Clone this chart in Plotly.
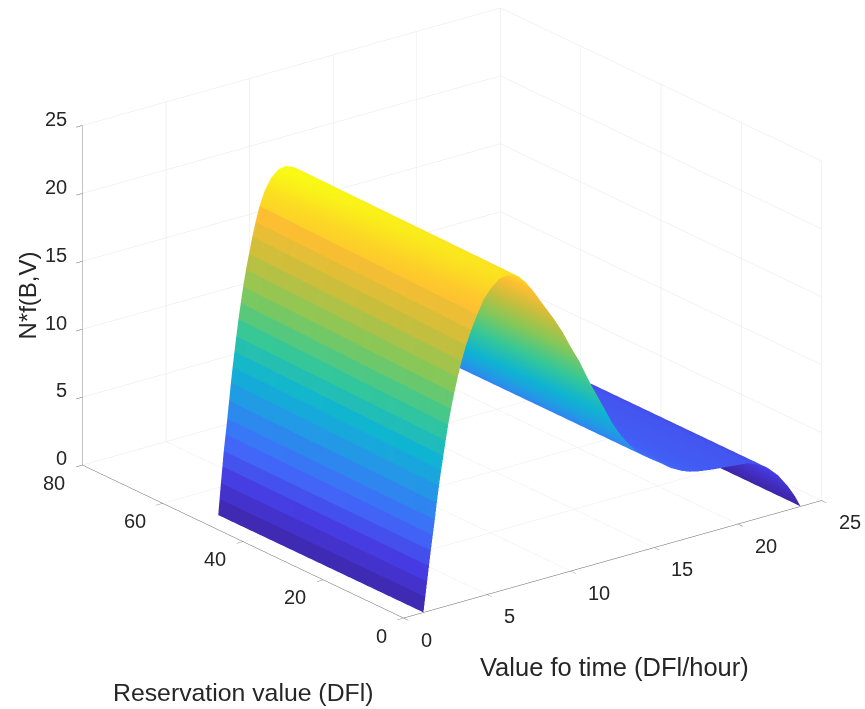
import plotly.graph_objects as go

# Surface profiles: value of time -> N*f at both ends of the reservation range
time_near = [1.19, 1.30, 1.41, 1.52, 1.63, 1.75, 1.87, 1.99, 2.12, 2.25, 2.38, 2.52, 2.67, 2.84,
             3.03, 3.24, 3.47, 3.74, 4.05, 4.40, 4.80, 5.25, 5.75, 6.30,
             6.9, 7.3, 7.7, 8.1, 8.5, 9.0, 9.5, 10.0, 10.5, 11.25, 12.0, 12.5, 13.0, 13.5, 14.0,
             14.5, 15.0, 15.5, 16.0, 16.6, 17.1, 17.6, 18.4, 19.2, 20.0, 20.6, 21.2, 21.8,
             22.4, 23.0, 23.4, 23.75]
density_near = [0.0, 1.1, 2.2, 3.3, 4.4, 5.5, 6.6, 7.8, 9.0, 10.1, 11.1, 12.2, 13.3, 14.4,
                15.5, 16.6, 17.7, 18.8, 19.8, 20.8, 21.8, 22.5, 23.0, 23.1,
                22.75, 22.2, 21.5, 20.7, 19.9, 18.9, 17.8, 16.5, 15.3, 13.2, 11.3, 10.0, 8.95, 8.1, 7.4,
                6.85, 6.4, 6.0, 5.5, 5.1, 4.85, 4.7, 4.55, 4.45, 4.35, 4.27, 3.95, 3.5,
                2.76, 1.73, 0.9, 0.0]
time_far = [1.16, 1.24, 1.32, 1.41, 1.49, 1.60, 1.70, 1.81, 1.92, 2.02, 2.13, 2.24, 2.37, 2.51,
            2.65, 2.82, 3.0, 3.2, 3.39, 3.63, 3.93, 4.3, 4.75, 5.2,
            5.75, 6.25, 6.75, 7.25, 7.7, 8.25, 8.85, 9.45, 10.0, 10.85, 11.7, 12.25, 12.8, 13.35, 13.9,
            14.5, 15.0, 15.5, 16.0, 16.6, 17.1, 17.6, 18.4, 19.2, 20.0, 20.6, 21.2, 21.8,
            22.4, 23.0, 23.4, 23.75]
density_far = [0.0, 1.16, 2.3, 3.5, 4.6, 5.8, 6.9, 8.2, 9.5, 10.6, 11.7, 12.8, 14.0, 15.15,
               16.3, 17.5, 18.6, 19.8, 20.8, 21.9, 22.9, 23.7, 24.2, 24.3,
               24.0, 23.5, 22.9, 22.1, 21.2, 20.1, 18.8, 17.4, 16.1, 13.9, 11.7, 10.4, 9.3, 8.4, 7.5,
               6.85, 6.4, 6.0, 5.5, 5.1, 4.85, 4.7, 4.55, 4.45, 4.35, 4.27, 3.95, 3.5,
               2.76, 1.73, 0.9, 0.0]
reservation_values = [0.0, 51.0]
flat_band_count = 20  # bands on the steep side are drawn as flat facets

x_ticks = [0, 5, 10, 15, 20, 25]
y_ticks = [0, 20, 40, 60, 80]
z_ticks = [0, 5, 10, 15, 20, 25]

parula = [[0.00, "rgb(62,38,168)"], [0.11, "rgb(70,58,225)"], [0.22, "rgb(65,105,250)"],
          [0.33, "rgb(40,145,235)"], [0.44, "rgb(15,180,210)"], [0.55, "rgb(55,200,150)"],
          [0.66, "rgb(130,200,90)"], [0.77, "rgb(200,190,60)"], [0.88, "rgb(254,190,50)"],
          [1.00, "rgb(249,251,20)"]]


def facet_row(xs, zs):
    """Duplicate vertices on the steep side so that each band has a single colour."""
    out_x, out_z, out_c = [], [], []
    for i, (x, z) in enumerate(zip(xs, zs)):
        if i < flat_band_count:
            if i > 0:
                out_x.append(x); out_z.append(z); out_c.append((zs[i - 1] + z) / 2)
            out_x.append(x); out_z.append(z); out_c.append((z + zs[i + 1]) / 2)
        else:
            out_x.append(x); out_z.append(z); out_c.append(z)
    return out_x, out_z, out_c


near_x, near_z, near_c = facet_row(time_near, density_near)
far_x, far_z, far_c = facet_row(time_far, density_far)

surface = go.Surface(
    x=[near_x, far_x],
    y=[[reservation_values[0]] * len(near_x), [reservation_values[1]] * len(far_x)],
    z=[near_z, far_z],
    surfacecolor=[near_c, far_c],
    colorscale=parula, cmin=0, cmax=24.3, showscale=False,
    lighting=dict(ambient=1, diffuse=0, specular=0, roughness=1, fresnel=0),
    hoverinfo="skip",
)
fig = go.Figure(surface)

tick_font = dict(family="Liberation Sans", size=20, color="#262626")


def axis(ticks, rng):
    return dict(range=rng, tickvals=ticks, showticklabels=False, title=dict(text=""),
                showgrid=True, gridcolor="#e6e6e6", gridwidth=1, zeroline=False,
                showline=True, linecolor="#606060", linewidth=1, ticks="outside", ticklen=8,
                tickcolor="#606060", tickwidth=1, showbackground=False, showspikes=False)


def tick_label(value, x, y, z, dx, dy, anchor):
    return dict(x=x, y=y, z=z, text=str(value), showarrow=False, font=tick_font,
                xshift=dx, yshift=dy, xanchor=anchor, yanchor="middle")


def axis_title(text, px, py, size, angle=0):
    return dict(text=text, x=px / 865, y=1 - py / 709, xref="paper", yref="paper", xanchor="center",
                yanchor="middle", textangle=angle, showarrow=False,
                font=dict(family="Liberation Sans", size=size, color="#262626"))


tick_labels = (
    [tick_label(v, v, 0, 0, 15, -22, "left") for v in x_ticks]
    + [tick_label(v, 0, v, 0, -15, -18, "right") for v in y_ticks]
    + [tick_label(v, 0, 80, v, -13, 6.5, "right") for v in z_ticks]
)

fig.update_layout(
    width=865, height=709, autosize=False, paper_bgcolor="white",
    margin=dict(l=0, r=0, t=0, b=0), showlegend=False,
    scene=dict(
        domain=dict(x=[0.045, 1.0], y=[0.1176, 1.0]),
        xaxis=axis(x_ticks, [0, 25]), yaxis=axis(y_ticks, [0, 80]), zaxis=axis(z_ticks, [0, 25]),
        aspectmode="manual", aspectratio=dict(x=1.684, y=1.684, z=1.166),
        camera=dict(projection=dict(type="orthographic"), center=dict(x=0, y=0, z=0),
                    eye=dict(x=-0.567 * 2, y=-0.738 * 2, z=0.366 * 2), up=dict(x=0, y=0, z=1)),
        annotations=tick_labels,
    ),
    annotations=[
        axis_title("Reservation value (DFl)", 243, 692, 24.8),
        axis_title("Value fo time (DFl/hour)", 614, 667, 25.5),
        axis_title("N*f(B,V)", 27, 295.5, 24, -90),
    ],
)
fig.write_html("out.html", config=dict(displayModeBar=False),
               post_script="document.body.style.margin='0';document.documentElement.style.overflow='hidden';")
